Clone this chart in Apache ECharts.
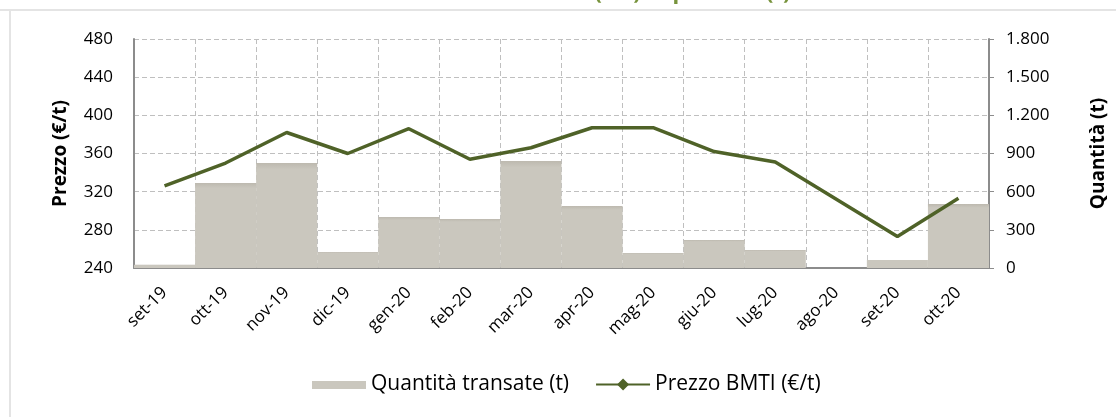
<!DOCTYPE html>
<html>
<head>
<meta charset="utf-8">
<script src="https://cdn.jsdelivr.net/npm/echarts@6/dist/echarts.min.js"></script>
<style>
  html, body { margin: 0; padding: 0; background: #fff; }
  #chart { width: 1116px; height: 417px; }
</style>
</head>
<body>
<div id="chart"></div>
<script>
const mesi = ["set-19", "ott-19", "nov-19", "dic-19", "gen-20", "feb-20", "mar-20",
  "apr-20", "mag-20", "giu-20", "lug-20", "ago-20", "set-20", "ott-20"];
// quantità transate (t)
const quantita = [25, 668, 825, 126, 401, 385, 841, 487, 118, 220, 141, 0, 63, 503];
// prezzo BMTI (€/t), agosto senza quotazione
const prezzo = [326, 350, 382, 360, 386, 354, 366, 387, 387, 362, 351, null, 273, 313];

let myChart = echarts.init(document.getElementById("chart"));
const font = "'Open Sans', 'Noto Sans', sans-serif";

let option = {
  animation: false,
  textStyle: { fontFamily: font },
  title: {
    text: "Prezzo (€/t) e quantità (t)",
    left: 512,
    top: -23,
    textStyle: { color: "#77933c", fontSize: 22, fontWeight: "bold", fontFamily: font }
  },
  graphic: [
    { type: "line", shape: { x1: 0, y1: 10, x2: 1116, y2: 10 }, style: { stroke: "#e4e4e4", lineWidth: 2 } },
    { type: "line", shape: { x1: 10, y1: 10, x2: 10, y2: 417 }, style: { stroke: "#e4e4e4", lineWidth: 2 } }
  ],
  grid: { left: 134, right: 123, top: 39, bottom: 149 },
  legend: {
    top: 369,
    left: 307,
    itemGap: 26,
    itemWidth: 54,
    itemHeight: 15,
    textStyle: { fontSize: 21, color: "#000", fontFamily: font },
    data: [
      { name: "Quantità transate (t)", icon: "path://M0,0M0,15M0,4L54,4L54,12L0,12Z" },
      "Prezzo BMTI (€/t)"
    ]
  },
  xAxis: {
    type: "category",
    data: mesi,
    boundaryGap: true,
    axisLine: { lineStyle: { color: "#8c8c8c", width: 2 } },
    axisTick: { show: false },
    splitLine: { show: true, lineStyle: { color: "#bfbfbf", type: [5, 3] } },
    axisLabel: { rotate: 45, color: "#000", fontSize: 17, margin: 22, interval: 0 }
  },
  yAxis: [
    {
      type: "value",
      min: 240,
      max: 480,
      interval: 40,
      name: "Prezzo (€/t)",
      nameLocation: "middle",
      nameGap: 64,
      nameTextStyle: { fontSize: 19, fontWeight: "bold", color: "#000" },
      axisLine: { show: true, lineStyle: { color: "#8c8c8c", width: 2 } },
      axisTick: { show: false },
      splitLine: { lineStyle: { color: "#bfbfbf", type: [5, 3] } },
      axisLabel: { color: "#000", fontSize: 17, margin: 21 }
    },
    {
      type: "value",
      min: 0,
      max: 1800,
      interval: 300,
      name: "Quantità (t)",
      nameLocation: "middle",
      nameGap: 100,
      nameTextStyle: { fontSize: 19, fontWeight: "bold", color: "#000" },
      axisLine: { show: true, lineStyle: { color: "#8c8c8c", width: 2 } },
      axisTick: { show: true, length: 5, lineStyle: { color: "#8c8c8c" } },
      splitLine: { show: false },
      axisLabel: {
        color: "#000", fontSize: 17, margin: 17,
        formatter: (v) => v.toLocaleString("it-IT")
      }
    }
  ],
  series: [
    {
      name: "Quantità transate (t)",
      type: "bar",
      yAxisIndex: 1,
      data: quantita,
      barCategoryGap: "0%",
      itemStyle: {
        color: new echarts.graphic.LinearGradient(0, 0, 0, 1, [
          { offset: 0, color: "#bdb9af" },
          { offset: 0.06, color: "#cac7be" },
          { offset: 1, color: "#cac7be" }
        ])
      },
      z: 1
    },
    {
      name: "Prezzo BMTI (€/t)",
      type: "line",
      yAxisIndex: 0,
      data: prezzo,
      connectNulls: true,
      symbol: "diamond",
      symbolSize: 16,
      showSymbol: false,
      lineStyle: { color: "#4f6228", width: 3.5 },
      itemStyle: { color: "#4f6228" },
      z: 3
    }
  ]
};
myChart.setOption(option);
</script>
</body>
</html>
